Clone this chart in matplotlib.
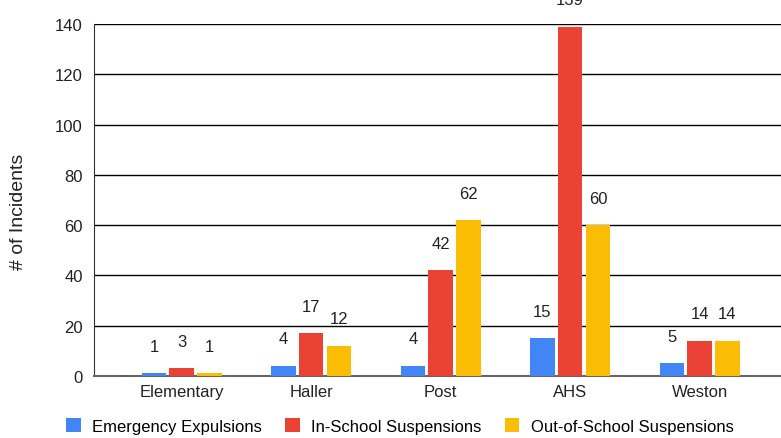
import matplotlib.pyplot as plt
import numpy as np

schools = ['Elementary', 'Haller', 'Post', 'AHS', 'Weston']
series_names = ['Emergency Expulsions', 'In-School Suspensions', 'Out-of-School Suspensions']
expulsions = [1, 4, 4, 15, 5]
in_school = [3, 17, 42, 139, 14]
out_school = [1, 12, 62, 60, 14]
colors = ['#4285F4', '#EA4335', '#FBBC04']

plt.rcParams['font.family'] = ['Liberation Sans', 'DejaVu Sans']

fig = plt.figure(figsize=(7.81, 4.39), dpi=100)
ax = fig.add_axes([94 / 781, 1 - 377 / 439, 1 - 94 / 781, (377 - 25) / 439])

x = np.arange(len(schools))
width = 0.19
step = 0.214
for i, (vals, name, col) in enumerate(zip([expulsions, in_school, out_school], series_names, colors)):
    bars = ax.bar(x + (i - 1) * step, vals, width, color=col, label=name, zorder=3)
    for b, v in zip(bars, vals):
        ax.annotate(str(v), (b.get_x() + b.get_width() / 2, v), xytext=(0, 14),
                    textcoords='offset points', ha='center', va='bottom',
                    fontsize=12, color='#222222', annotation_clip=False)

ax.set_xlim(-0.677, 4.628)
ax.set_ylim(0, 140)
ax.set_yticks(range(0, 141, 20))
ax.set_xticks(x)
ax.set_xticklabels(schools)
ax.tick_params(axis='both', length=0, labelsize=12, colors='#222222')
ax.tick_params(axis='y', pad=8)
ax.tick_params(axis='x', pad=6)
ax.grid(axis='y', color='black', linewidth=1, zorder=0)
for side in ['top', 'right']:
    ax.spines[side].set_visible(False)
ax.spines['left'].set_color('#333333')
ax.spines['bottom'].set_color('#666666')
ax.spines['bottom'].set_linewidth(1.5)
ax.set_ylabel('# of Incidents', fontsize=14, color='#222222')
ax.yaxis.set_label_coords(-0.097, 0.469)

fig.legend(loc='center', bbox_to_anchor=(400 / 781, 1 - 427 / 439), ncol=3, frameon=False,
           fontsize=12, handlelength=0.85, handleheight=0.85, columnspacing=1.4, handletextpad=0.7)

plt.savefig('out.png', dpi=100)
